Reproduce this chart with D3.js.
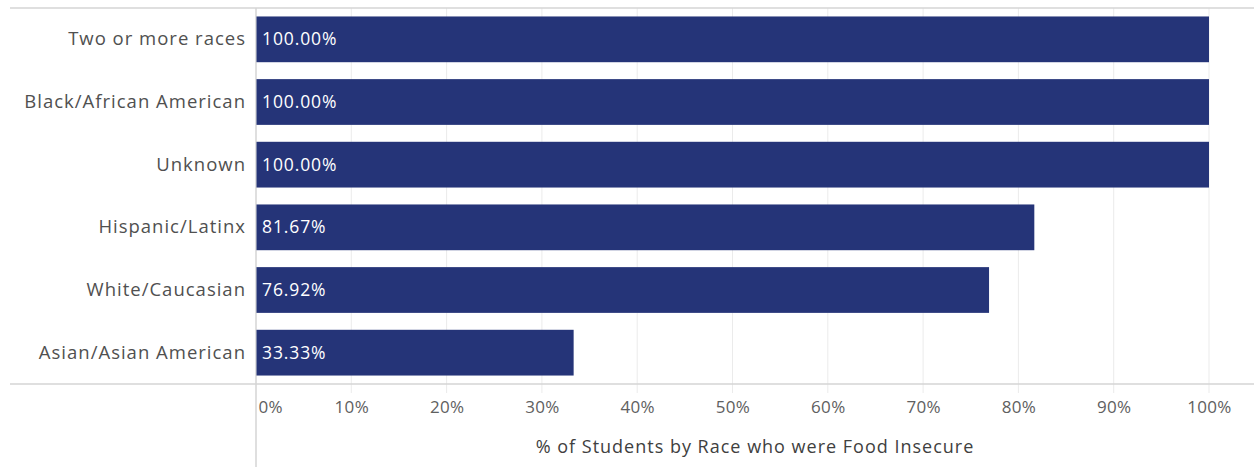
<!DOCTYPE html>
<html>
<head>
<meta charset="utf-8">
<script src="https://cdn.jsdelivr.net/npm/d3@7"></script>
<style>
  body { margin: 0; background: #fff; }
  text { font-family: "Open Sans", "Noto Sans", sans-serif; }
</style>
</head>
<body>
<div id="chart"></div>
<script>
const categories = ["Two or more races", "Black/African American", "Unknown", "Hispanic/Latinx", "White/Caucasian", "Asian/Asian American"];
const values = [100.00, 100.00, 100.00, 81.67, 76.92, 33.33];
const tickValues = [0, 10, 20, 30, 40, 50, 60, 70, 80, 90, 100];

const data = categories.map(function(c, i) { return {cat: c, val: values[i]}; });

const width = 1254, height = 467;
const plotLeft = 256, plotTop = 8, plotBottom = 384, plotRight = 1209;
const fontFam = "'Open Sans', 'Noto Sans', sans-serif";

const svg = d3.select("#chart")
  .append("svg")
  .attr("width", width)
  .attr("height", height);

const xScale = d3.scaleLinear()
  .domain([0, 100])
  .range([plotLeft, plotRight]);

const yScale = d3.scaleBand()
  .domain(categories)
  .range([plotTop, plotBottom])
  .paddingInner(0.27)
  .paddingOuter(0.135);

// gridlines
svg.selectAll(".grid")
  .data(tickValues.slice(1))
  .enter()
  .append("line")
    .attr("x1", function(d) { return xScale(d); })
    .attr("x2", function(d) { return xScale(d); })
    .attr("y1", plotTop)
    .attr("y2", plotBottom + 9)
    .attr("stroke", "#ebebeb")
    .attr("stroke-width", 1);

// frame lines
svg.append("line")
  .attr("x1", 10).attr("x2", width)
  .attr("y1", plotTop).attr("y2", plotTop)
  .attr("stroke", "#d4d4d4").attr("stroke-width", 1.5);

svg.append("line")
  .attr("x1", 10).attr("x2", width)
  .attr("y1", plotBottom).attr("y2", plotBottom)
  .attr("stroke", "#d4d4d4").attr("stroke-width", 1.5);

svg.append("line")
  .attr("x1", plotLeft).attr("x2", plotLeft)
  .attr("y1", plotTop).attr("y2", height)
  .attr("stroke", "#d4d4d4").attr("stroke-width", 1.5);

// bars
svg.selectAll(".bar")
  .data(data)
  .enter()
  .append("rect")
    .attr("class", "bar")
    .attr("x", xScale(0) + 0.5)
    .attr("y", function(d) { return yScale(d.cat); })
    .attr("width", function(d) { return xScale(d.val) - xScale(0) - 0.5; })
    .attr("height", yScale.bandwidth())
    .attr("fill", "#253478");

// value labels
svg.selectAll(".val")
  .data(data)
  .enter()
  .append("text")
    .attr("x", xScale(0) + 6)
    .attr("y", function(d) { return yScale(d.cat) + yScale.bandwidth() / 2; })
    .attr("dy", "0.35em")
    .attr("fill", "#fff")
    .attr("font-size", 17.5)
    .attr("letter-spacing", 0.9)
    .text(function(d) { return d.val.toFixed(2) + "%"; });

// category labels
const yAxis = svg.append("g")
  .attr("transform", `translate(${plotLeft - 10}, 0)`)
  .call(d3.axisLeft(yScale).tickSize(0).tickPadding(0));
yAxis.select(".domain").remove();
yAxis.selectAll("text")
  .attr("font-size", 18.5)
  .attr("letter-spacing", 1.0)
  .attr("fill", "#505050")
  .style("font-family", fontFam);

// x axis tick labels
const xAxis = svg.append("g")
  .attr("transform", `translate(0, ${plotBottom})`)
  .call(d3.axisBottom(xScale).tickValues(tickValues).tickSize(0).tickPadding(17)
    .tickFormat(function(d) { return d + "%"; }));
xAxis.select(".domain").remove();
xAxis.selectAll("text")
  .attr("font-size", 17)
  .attr("letter-spacing", 0.3)
  .attr("fill", "#606060")
  .style("font-family", fontFam)
  .attr("text-anchor", function(d) { return d === 0 ? "start" : "middle"; })
  .attr("dx", function(d) { return d === 0 ? 2 : 0; });

// axis title
svg.append("text")
  .attr("x", (plotLeft + width) / 2)
  .attr("y", 447)
  .attr("dy", "0.35em")
  .attr("text-anchor", "middle")
  .attr("font-size", 18)
  .attr("letter-spacing", 1.0)
  .attr("fill", "#404040")
  .text("% of Students by Race who were Food Insecure");
</script>
</body>
</html>
